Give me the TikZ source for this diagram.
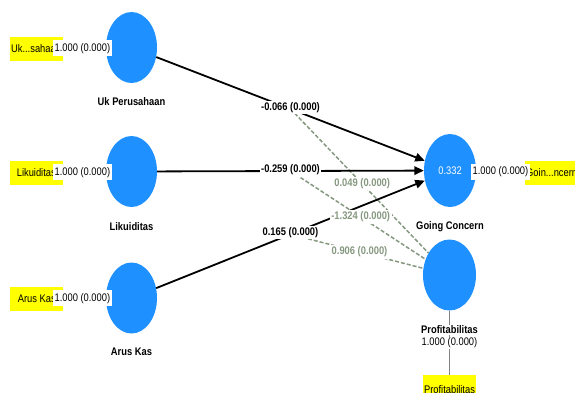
\documentclass[tikz,border=0pt]{standalone}
\usepackage{fontspec}
\setmainfont{Liberation Sans}[FakeStretch=0.85]
\usetikzlibrary{arrows.meta,shapes.geometric}
\definecolor{lvblue}{RGB}{30,144,255}
\definecolor{modgreen}{RGB}{134,152,128}
\definecolor{indyellow}{RGB}{255,255,0}
\definecolor{indline}{RGB}{130,130,130}
\begin{document}
\begin{tikzpicture}[x=1pt,y=-1pt,
  every node/.style={font=\fontsize{11}{12}\selectfont},
  lv/.style={ellipse,fill=lvblue,draw=none,minimum width=51pt,minimum height=71pt,inner sep=0pt},
  lvname/.style={font=\fontsize{11}{12}\selectfont\bfseries,text=black,inner sep=1pt},
  indbox/.style={rectangle,fill=indyellow,draw=none,minimum width=53pt,minimum height=24pt,inner sep=0pt},
  indtext/.style={inner sep=0pt,text=black},
  indconn/.style={draw=indline,line width=1.2pt},
  load/.style={fill=white,inner xsep=2pt,inner ysep=3pt,text=black},
  pathc/.style={draw=black,line width=1.8pt,-{Triangle[length=9.5pt,width=8.5pt]}},
  pathlab/.style={fill=white,inner xsep=1.5pt,inner ysep=1.5pt,font=\fontsize{11}{12}\selectfont\bfseries},
  modc/.style={draw=modgreen,line width=1.5pt,dash pattern=on 4pt off 2pt},
  modlab/.style={fill=white,inner xsep=1.5pt,inner ysep=1.5pt,text=modgreen,font=\fontsize{11}{12}\selectfont\bfseries}
]
\useasboundingbox (0,0) rectangle (575,392);
\clip (0,0) rectangle (575,392);

% latent variables
\node[lv] (uk) at (131.5,47.5) {};
\node[lv] (lk) at (131.5,171.5) {};
\node[lv] (ak) at (131.5,298) {};
\node[lv,minimum width=52pt,minimum height=73pt,text=white] (gc) at (450,170.5) {0.332};
\node[lv,minimum width=53pt] (pf) at (449.5,275) {};

% names
\node[lvname] (ukn) at (131.5,102) {Uk Perusahaan};
\node[lvname] (lkn) at (131.5,227) {Likuiditas};
\node[lvname] (akn) at (131.5,352) {Arus Kas};
\node[lvname] (gcn) at (450,227) {Going Concern};

% indicators
\node[indbox] (i1) at (36.5,49) {};
\node[indtext,anchor=east] (t1) at (56,49) {Uk...sahaa};
\node[indbox] (i2) at (36.5,173) {};
\node[indtext,anchor=east] (t2) at (56,173) {Likuiditas};
\node[indbox] (i3) at (36.5,298.5) {};
\node[indtext,anchor=east] (t3) at (56,298.5) {Arus Kas};
\node[indbox] (i5) at (551.5,173) {};
\node[indtext,anchor=west] (t5) at (526,173) {Goin...ncern};
\node[indbox] (i6) at (449.5,387) {};
\node[indtext] (t6) at (449.5,390) {Profitabilitas};

\draw[indconn] (i1) -- (uk) node[load,pos=0.45] {1.000 (0.000)};
\draw[indconn] (i2) -- (lk) node[load,pos=0.45] {1.000 (0.000)};
\draw[indconn] (i3) -- (ak) node[load,pos=0.45] {1.000 (0.000)};
\draw[indconn] (gc) -- (i5) node[load,midway] {1.000 (0.000)};
\draw[indconn] (pf) -- (i6);
\node[lvname,fill=white] (pfn) at (449.5,330) {Profitabilitas};
\node[load,inner ysep=1pt] (pfl) at (449.5,343) {1.000 (0.000)};

% midpoints of structural paths
\path (uk) -- (gc) coordinate[pos=0.5] (m1);
\path (lk) -- (gc) coordinate[pos=0.5] (m2);
\path (ak) -- (gc) coordinate[pos=0.5] (m3);

% moderating effects
\draw[modc] (m1) -- (pf) coordinate[pos=0.52] (n1);
\draw[modc] (m2) -- (pf) coordinate[pos=0.52] (n2);
\draw[modc] (m3) -- (pf) coordinate[pos=0.52] (n3);

% structural paths
\draw[pathc] (uk) -- (gc);
\draw[pathc] (lk) -- (gc);
\draw[pathc] (ak) -- (gc);

% labels
\node[pathlab] (l1) at ([yshift=1.5pt]m1) {-0.066 (0.000)};
\node[pathlab] (l2) at ([yshift=1pt]m2) {-0.259 (0.000)};
\node[pathlab] (l3) at ([yshift=1.5pt]m3) {0.165 (0.000)};
\node[modlab] (k1) at (n1) {0.049 (0.000)};
\node[modlab] (k2) at (n2) {-1.324 (0.000)};
\node[modlab] (k3) at (n3) {0.906 (0.000)};
\end{tikzpicture}
\end{document}
